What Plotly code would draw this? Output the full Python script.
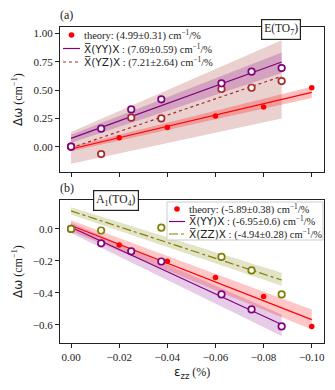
import numpy as np
import plotly.graph_objects as go

# ---- data ----
# (a) E(TO7)
a_th_x = [0.0, -0.02, -0.04, -0.06, -0.08, -0.10]
a_th_y = [0.0, 0.079, 0.17, 0.27, 0.35, 0.52]
a_yy_x = [0.0, -0.0125, -0.025, -0.0375, -0.0625, -0.075, -0.0875]
a_yy_y = [0.0, 0.159, 0.329, 0.418, 0.559, 0.662, 0.694]
a_yz_x = [0.0, -0.0125, -0.025, -0.0375, -0.0625, -0.075, -0.0875]
a_yz_y = [0.0, -0.065, 0.256, 0.25, 0.509, 0.52, 0.579]
# linear fits: slope (cm-1/%, as in legend) and intercept, dw = b - k*eps
a_slopes = [4.99, 7.69, 7.21]
a_icepts = [-0.02, 0.074, -0.01]
# confidence bands (edges at first/last strain value)
a_th_band = ([-0.04, 0.43], [0.0, 0.53])
a_yy_band = ([0.035, 0.65], [0.105, 0.83])
a_yz_band = ([-0.15, 0.25], [0.13, 0.94])

# (b) A1(TO4)
b_th_x = [0.0, -0.02, -0.04, -0.06, -0.08, -0.10]
b_th_y = [0.0, -0.10, -0.202, -0.304, -0.423, -0.61]
b_yy_x = [0.0, -0.0125, -0.025, -0.0375, -0.0625, -0.075, -0.0875]
b_yy_y = [0.0, -0.09, -0.14, -0.204, -0.41, -0.504, -0.61]
b_zz_x = [0.0, -0.0125, -0.0375, -0.0625, -0.075, -0.0875]
b_zz_y = [0.0, -0.01, 0.008, -0.175, -0.26, -0.41]
b_slopes = [-5.89, -6.95, -4.94]
b_icepts = [0.021, 0.01, 0.1125]
b_th_band = ([-0.015, -0.63], [0.055, -0.505])
b_yy_band = ([-0.025, -0.67], [0.04, -0.535])
b_zz_band = ([0.09, -0.355], [0.135, -0.275])

XBAR = "<span style='font-family:DejaVu Sans'>X\u0305(%s)X</span>"
a_labels = ["theory: (4.99±0.31) cm<sup>−1</sup>/%",
            XBAR % "YY" + " : (7.69±0.59) cm<sup>−1</sup>/%",
            XBAR % "YZ" + " : (7.21±2.64) cm<sup>−1</sup>/%"]
b_labels = ["theory: (-5.89±0.38) cm<sup>−1</sup>/%",
            XBAR % "YY" + " : (-6.95±0.6) cm<sup>−1</sup>/%",
            XBAR % "ZZ" + " : (-4.94±0.28) cm<sup>−1</sup>/%"]

RED = "#ff0000"
PURPLE = "#800080"
BROWN = "#a52a2a"
OLIVE = "#808000"
SERIF = "Liberation Serif"

# plot area in pixels (used for the hand-made legends)
L, T, R, B = 60, 27, 324, 343
W, H = R - L, B - T


def px(xp):
    return (xp - L) / W


def py(yp):
    return (B - yp) / H


fig = go.Figure()


def add_band(x, band, color, xa, ya):
    xs = [x[0], x[-1]]
    fig.add_trace(go.Scatter(x=xs, y=band[0], mode="lines", line=dict(width=0),
                             showlegend=False, hoverinfo="skip", xaxis=xa, yaxis=ya))
    fig.add_trace(go.Scatter(x=xs, y=band[1], mode="lines", line=dict(width=0),
                             fill="tonexty", fillcolor=color, showlegend=False,
                             hoverinfo="skip", xaxis=xa, yaxis=ya))


def add_fit(x, k, b, color, dash, xa, ya):
    xs = np.array([x[0], x[-1]])
    fig.add_trace(go.Scatter(x=xs, y=b - k * xs, mode="lines", showlegend=False,
                             line=dict(color=color, width=1.2, dash=dash),
                             xaxis=xa, yaxis=ya))


def add_points(x, y, color, hollow, xa, ya):
    if hollow:
        mk = dict(size=6.5, color="white", line=dict(color=color, width=1.7))
    else:
        mk = dict(size=5.5, color=color, line=dict(width=0))
    fig.add_trace(go.Scatter(x=x, y=y, mode="markers", marker=mk, showlegend=False,
                             xaxis=xa, yaxis=ya))


# panel (a) on x2/y2
add_band(a_yz_x, a_yz_band, "rgba(165,42,42,0.22)", "x2", "y2")
add_band(a_yy_x, a_yy_band, "rgba(128,0,128,0.22)", "x2", "y2")
add_band(a_th_x, a_th_band, "rgba(255,0,0,0.25)", "x2", "y2")
add_points(a_th_x, a_th_y, RED, False, "x2", "y2")
add_fit(a_th_x, a_slopes[0], a_icepts[0], RED, "solid", "x2", "y2")
add_fit(a_yy_x, a_slopes[1], a_icepts[1], PURPLE, "solid", "x2", "y2")
add_fit(a_yz_x, a_slopes[2], a_icepts[2], BROWN, "dot", "x2", "y2")
add_points(a_yz_x, a_yz_y, BROWN, True, "x2", "y2")
add_points(a_yy_x, a_yy_y, PURPLE, True, "x2", "y2")

# panel (b) on x/y
add_band(b_zz_x, b_zz_band, "rgba(128,128,0,0.22)", "x", "y")
add_band(b_yy_x, b_yy_band, "rgba(128,0,128,0.2)", "x", "y")
add_band(b_th_x, b_th_band, "rgba(255,0,0,0.22)", "x", "y")
add_points(b_th_x, b_th_y, RED, False, "x", "y")
add_fit(b_th_x, b_slopes[0], b_icepts[0], RED, "solid", "x", "y")
add_fit(b_yy_x, b_slopes[1], b_icepts[1], PURPLE, "solid", "x", "y")
add_fit(b_zz_x, b_slopes[2], b_icepts[2], OLIVE, "dashdot", "x", "y")
add_points(b_yy_x, b_yy_y, PURPLE, True, "x", "y")
add_points(b_zz_x, b_zz_y, OLIVE, True, "x", "y")

# ---- hand-made compact legends (matplotlib-like spacing) ----
shapes = []
annotations = []

# legend box of panel (b)
shapes.append(dict(type="rect", xref="paper", yref="paper", layer="above",
                   x0=px(167), x1=px(323), y0=py(240), y1=py(202),
                   fillcolor="rgba(255,255,255,0.8)", line=dict(color="#cccccc", width=1)))


def legend_block(x_left, x_text, rows, labels, styles):
    for yp, lab, st in zip(rows, labels, styles):
        kind, color, dash = st
        if kind == "dot":
            xc = (x_left + x_text - 2) / 2
            shapes.append(dict(type="circle", xref="paper", yref="paper", layer="above",
                               xsizemode="pixel", ysizemode="pixel",
                               xanchor=px(xc), yanchor=py(yp),
                               x0=-2.8, x1=2.8, y0=-2.8, y1=2.8,
                               fillcolor=color, line=dict(width=0)))
        else:
            shapes.append(dict(type="line", xref="paper", yref="paper", layer="above",
                               x0=px(x_left), x1=px(x_text - 2), y0=py(yp), y1=py(yp),
                               line=dict(color=color, width=1.2, dash=dash)))
        annotations.append(dict(text=lab, x=px(x_text), y=py(yp), xref="paper", yref="paper",
                                xanchor="left", yanchor="middle", showarrow=False,
                                font=dict(family=SERIF, size=10.5, color="#222")))


legend_block(63, 82, [35, 48.5, 62], a_labels,
             [("dot", RED, None), ("line", PURPLE, "solid"), ("line", BROWN, "dot")])
legend_block(169, 187, [209, 221.5, 234], b_labels,
             [("dot", RED, None), ("line", PURPLE, "solid"), ("line", OLIVE, "dashdot")])

annotations += [
    dict(text="(a)", x=px(58), y=py(15), xref="paper", yref="paper",
         xanchor="left", yanchor="middle", showarrow=False, font=dict(size=12)),
    dict(text="(b)", x=px(58), y=py(188), xref="paper", yref="paper",
         xanchor="left", yanchor="middle", showarrow=False, font=dict(size=12)),
    dict(text="E(TO<sub>7</sub>)", x=px(281), y=py(29), xref="paper", yref="paper",
         xanchor="center", yanchor="middle", showarrow=False, font=dict(size=11.5),
         bgcolor="white", bordercolor="#222", borderwidth=1.2, borderpad=2),
    dict(text="A<sub>1</sub>(TO<sub>4</sub>)", x=px(115.5), y=py(200), xref="paper", yref="paper",
         xanchor="center", yanchor="middle", showarrow=False, font=dict(size=11.5),
         bgcolor="white", bordercolor="#222", borderwidth=1.2, borderpad=2),
    # y-axis titles, placed by hand so they do not push the margins
    dict(text="<span style='font-family:DejaVu Sans'>Δω</span> (cm<sup>−1</sup>)",
         x=px(17), y=py(100), xref="paper", yref="paper", textangle=-90,
         xanchor="center", yanchor="middle", showarrow=False, font=dict(size=12)),
    dict(text="<span style='font-family:DejaVu Sans'>Δω</span> (cm<sup>−1</sup>)",
         x=px(17), y=py(272), xref="paper", yref="paper", textangle=-90,
         xanchor="center", yanchor="middle", showarrow=False, font=dict(size=12)),
    dict(text="<span style='font-family:DejaVu Sans'>ε<sub>zz</sub></span> (%)",
         x=px(192), y=py(373), xref="paper", yref="paper",
         xanchor="center", yanchor="middle", showarrow=False, font=dict(size=12)),
]

axis_common = dict(showline=True, linecolor="#222", linewidth=1, mirror=True,
                   ticks="outside", ticklen=4, tickcolor="#222", showgrid=False,
                   zeroline=False, automargin=False,
                   tickfont=dict(family=SERIF, size=11, color="#222"))

xr = [0.0046, -0.1051]
xticks = [0.0, -0.02, -0.04, -0.06, -0.08, -0.10]

fig.update_layout(
    width=335, height=390,
    margin=dict(l=L, r=335 - R, t=T, b=390 - B, autoexpand=False),
    plot_bgcolor="white", paper_bgcolor="white",
    font=dict(family=SERIF, size=11, color="#222"),
    showlegend=False,
    xaxis=dict(domain=[0, 1], anchor="y", range=xr, tickvals=xticks, tickformat=".2f",
               **axis_common),
    yaxis=dict(domain=[0, py(200)], anchor="x", range=[-0.714, 0.181],
               tickvals=[0.0, -0.2, -0.4, -0.6], tickformat=".1f",
               **axis_common),
    xaxis2=dict(domain=[0, 1], anchor="y2", range=xr, tickvals=xticks, matches="x",
                showticklabels=False, **axis_common),
    yaxis2=dict(domain=[py(172), 1], anchor="x2", range=[-0.223, 1.056],
                tickvals=[0.0, 0.25, 0.5, 0.75, 1.0], tickformat=".2f",
                **axis_common),
    shapes=shapes,
    annotations=annotations,
)

# the page body has a default 8px margin; remove it so the figure fills the window
fig.write_html("out.html", config={"displayModeBar": False},
               post_script="document.body.style.margin='0';document.body.style.overflow='hidden';")
